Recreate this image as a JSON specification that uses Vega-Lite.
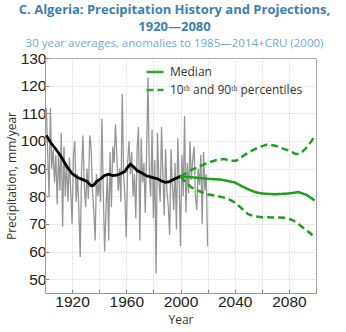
{
  "$schema": "https://vega.github.io/schema/vega-lite/v6.json",
  "width": 271,
  "height": 235,
  "autosize": {"type": "none"},
  "padding": {"left": 45, "top": 58, "right": 30, "bottom": 39},
  "background": "white",
  "title": {
    "text": ["C. Algeria: Precipitation History and Projections,", "1920—2080"],
    "subtitle": "30 year averages, anomalies to 1985—2014+CRU (2000)",
    "font": "Open Sans",
    "fontSize": 13,
    "fontWeight": "bold",
    "color": "#3b7fb3",
    "lineHeight": 17,
    "subtitleFont": "Open Sans",
    "subtitleFontSize": 11.5,
    "subtitleColor": "#6fa8dc",
    "subtitlePadding": 4,
    "offset": 2,
    "anchor": "middle",
    "dx": -6
  },
  "config": {
    "view": {"stroke": "#999", "strokeWidth": 1},
    "axis": {
      "labelFont": "Liberation Sans",
      "labelFontSize": 15.5,
      "labelColor": "#222",
      "domainColor": "#999",
      "tickColor": "#888",
      "tickSize": -4,
      "gridColor": "#c8c8c8",
      "gridDash": [1, 2],
      "titleFont": "Open Sans",
      "titleFontSize": 12.5,
      "titleFontWeight": "normal",
      "titleColor": "#333"
    }
  },
  "datasets": {
    "annual": [
      {"year": 1901, "value": 112}, {"year": 1902, "value": 95}, {"year": 1903, "value": 80}, {"year": 1904, "value": 112}, {"year": 1905, "value": 90},
      {"year": 1906, "value": 97}, {"year": 1907, "value": 85}, {"year": 1908, "value": 95}, {"year": 1909, "value": 77}, {"year": 1910, "value": 96},
      {"year": 1911, "value": 82}, {"year": 1912, "value": 103}, {"year": 1913, "value": 69}, {"year": 1914, "value": 98}, {"year": 1915, "value": 80},
      {"year": 1916, "value": 92}, {"year": 1917, "value": 78}, {"year": 1918, "value": 94}, {"year": 1919, "value": 82}, {"year": 1920, "value": 70},
      {"year": 1921, "value": 95}, {"year": 1922, "value": 100}, {"year": 1923, "value": 78}, {"year": 1924, "value": 88}, {"year": 1925, "value": 75},
      {"year": 1926, "value": 58}, {"year": 1927, "value": 90}, {"year": 1928, "value": 102}, {"year": 1929, "value": 84}, {"year": 1930, "value": 76},
      {"year": 1931, "value": 90}, {"year": 1932, "value": 79}, {"year": 1933, "value": 102}, {"year": 1934, "value": 98}, {"year": 1935, "value": 82},
      {"year": 1936, "value": 75}, {"year": 1937, "value": 64}, {"year": 1938, "value": 88}, {"year": 1939, "value": 80}, {"year": 1940, "value": 86},
      {"year": 1941, "value": 78}, {"year": 1942, "value": 108}, {"year": 1943, "value": 82}, {"year": 1944, "value": 60}, {"year": 1945, "value": 75},
      {"year": 1946, "value": 88}, {"year": 1947, "value": 64}, {"year": 1948, "value": 96}, {"year": 1949, "value": 76}, {"year": 1950, "value": 98},
      {"year": 1951, "value": 92}, {"year": 1952, "value": 106}, {"year": 1953, "value": 95}, {"year": 1954, "value": 82}, {"year": 1955, "value": 90},
      {"year": 1956, "value": 78}, {"year": 1957, "value": 117}, {"year": 1958, "value": 88}, {"year": 1959, "value": 80}, {"year": 1960, "value": 65},
      {"year": 1961, "value": 92}, {"year": 1962, "value": 100}, {"year": 1963, "value": 88}, {"year": 1964, "value": 96}, {"year": 1965, "value": 80},
      {"year": 1966, "value": 88}, {"year": 1967, "value": 72}, {"year": 1968, "value": 97}, {"year": 1969, "value": 105}, {"year": 1970, "value": 64},
      {"year": 1971, "value": 101}, {"year": 1972, "value": 85}, {"year": 1973, "value": 92}, {"year": 1974, "value": 74}, {"year": 1975, "value": 96},
      {"year": 1976, "value": 123}, {"year": 1977, "value": 88}, {"year": 1978, "value": 80}, {"year": 1979, "value": 104}, {"year": 1980, "value": 72},
      {"year": 1981, "value": 93}, {"year": 1982, "value": 52}, {"year": 1983, "value": 103}, {"year": 1984, "value": 86}, {"year": 1985, "value": 78},
      {"year": 1986, "value": 105}, {"year": 1987, "value": 88}, {"year": 1988, "value": 73}, {"year": 1989, "value": 97}, {"year": 1990, "value": 82},
      {"year": 1991, "value": 76}, {"year": 1992, "value": 66}, {"year": 1993, "value": 97}, {"year": 1994, "value": 84}, {"year": 1995, "value": 75},
      {"year": 1996, "value": 92}, {"year": 1997, "value": 68}, {"year": 1998, "value": 101}, {"year": 1999, "value": 85}, {"year": 2000, "value": 62},
      {"year": 2001, "value": 95}, {"year": 2002, "value": 80}, {"year": 2003, "value": 109}, {"year": 2004, "value": 74}, {"year": 2005, "value": 92},
      {"year": 2006, "value": 81}, {"year": 2007, "value": 100}, {"year": 2008, "value": 86}, {"year": 2009, "value": 93}, {"year": 2010, "value": 98},
      {"year": 2011, "value": 80}, {"year": 2012, "value": 75}, {"year": 2013, "value": 90}, {"year": 2014, "value": 84}, {"year": 2015, "value": 95},
      {"year": 2016, "value": 70}, {"year": 2017, "value": 96}, {"year": 2018, "value": 82}, {"year": 2019, "value": 88}, {"year": 2020, "value": 62}
    ],
    "smooth": [
      {"year": 1901, "value": 102}, {"year": 1904, "value": 99.5}, {"year": 1908, "value": 97}, {"year": 1912, "value": 94.3},
      {"year": 1916, "value": 90.8}, {"year": 1920, "value": 88.2}, {"year": 1924, "value": 86.8}, {"year": 1928, "value": 86},
      {"year": 1931, "value": 85.3}, {"year": 1934, "value": 83.8}, {"year": 1936, "value": 84}, {"year": 1938, "value": 85.3},
      {"year": 1941, "value": 86.3}, {"year": 1944, "value": 87.5}, {"year": 1947, "value": 88}, {"year": 1950, "value": 87.5},
      {"year": 1953, "value": 87.6}, {"year": 1956, "value": 88.2}, {"year": 1959, "value": 89}, {"year": 1961, "value": 90.5},
      {"year": 1963, "value": 91.5}, {"year": 1965, "value": 90.8}, {"year": 1968, "value": 89.3}, {"year": 1971, "value": 88.5},
      {"year": 1975, "value": 87.4}, {"year": 1979, "value": 86.8}, {"year": 1983, "value": 86.3}, {"year": 1986, "value": 85.5},
      {"year": 1989, "value": 85}, {"year": 1992, "value": 85.3}, {"year": 1995, "value": 86.1}, {"year": 1998, "value": 86.8},
      {"year": 2000, "value": 87.2}
    ],
    "proj": [
      {"year": 2000, "value": 87.2, "line": "median", "series": "Median"},
      {"year": 2010, "value": 86.8, "line": "median", "series": "Median"},
      {"year": 2020, "value": 86.3, "line": "median", "series": "Median"},
      {"year": 2030, "value": 86.0, "line": "median", "series": "Median"},
      {"year": 2040, "value": 85.0, "line": "median", "series": "Median"},
      {"year": 2045, "value": 83.7, "line": "median", "series": "Median"},
      {"year": 2050, "value": 82.5, "line": "median", "series": "Median"},
      {"year": 2055, "value": 81.5, "line": "median", "series": "Median"},
      {"year": 2060, "value": 81.0, "line": "median", "series": "Median"},
      {"year": 2070, "value": 80.7, "line": "median", "series": "Median"},
      {"year": 2080, "value": 81.0, "line": "median", "series": "Median"},
      {"year": 2087, "value": 81.5, "line": "median", "series": "Median"},
      {"year": 2093, "value": 80.5, "line": "median", "series": "Median"},
      {"year": 2099, "value": 78.5, "line": "median", "series": "Median"},
      {"year": 2000, "value": 87.2, "line": "p90", "series": "10ᵗʰ and 90ᵗʰ percentiles"},
      {"year": 2008, "value": 89.5, "line": "p90", "series": "10ᵗʰ and 90ᵗʰ percentiles"},
      {"year": 2015, "value": 91.0, "line": "p90", "series": "10ᵗʰ and 90ᵗʰ percentiles"},
      {"year": 2020, "value": 92.1, "line": "p90", "series": "10ᵗʰ and 90ᵗʰ percentiles"},
      {"year": 2026, "value": 93.0, "line": "p90", "series": "10ᵗʰ and 90ᵗʰ percentiles"},
      {"year": 2032, "value": 93.5, "line": "p90", "series": "10ᵗʰ and 90ᵗʰ percentiles"},
      {"year": 2037, "value": 92.8, "line": "p90", "series": "10ᵗʰ and 90ᵗʰ percentiles"},
      {"year": 2041, "value": 92.8, "line": "p90", "series": "10ᵗʰ and 90ᵗʰ percentiles"},
      {"year": 2046, "value": 94.5, "line": "p90", "series": "10ᵗʰ and 90ᵗʰ percentiles"},
      {"year": 2052, "value": 96.3, "line": "p90", "series": "10ᵗʰ and 90ᵗʰ percentiles"},
      {"year": 2058, "value": 97.8, "line": "p90", "series": "10ᵗʰ and 90ᵗʰ percentiles"},
      {"year": 2064, "value": 98.7, "line": "p90", "series": "10ᵗʰ and 90ᵗʰ percentiles"},
      {"year": 2070, "value": 98.3, "line": "p90", "series": "10ᵗʰ and 90ᵗʰ percentiles"},
      {"year": 2075, "value": 97.3, "line": "p90", "series": "10ᵗʰ and 90ᵗʰ percentiles"},
      {"year": 2080, "value": 96.5, "line": "p90", "series": "10ᵗʰ and 90ᵗʰ percentiles"},
      {"year": 2085, "value": 95.3, "line": "p90", "series": "10ᵗʰ and 90ᵗʰ percentiles"},
      {"year": 2088, "value": 95.4, "line": "p90", "series": "10ᵗʰ and 90ᵗʰ percentiles"},
      {"year": 2092, "value": 97.0, "line": "p90", "series": "10ᵗʰ and 90ᵗʰ percentiles"},
      {"year": 2096, "value": 99.5, "line": "p90", "series": "10ᵗʰ and 90ᵗʰ percentiles"},
      {"year": 2099, "value": 101.7, "line": "p90", "series": "10ᵗʰ and 90ᵗʰ percentiles"},
      {"year": 2000, "value": 87.2, "line": "p10", "series": "10ᵗʰ and 90ᵗʰ percentiles"},
      {"year": 2004, "value": 85.0, "line": "p10", "series": "10ᵗʰ and 90ᵗʰ percentiles"},
      {"year": 2008, "value": 83.2, "line": "p10", "series": "10ᵗʰ and 90ᵗʰ percentiles"},
      {"year": 2014, "value": 81.8, "line": "p10", "series": "10ᵗʰ and 90ᵗʰ percentiles"},
      {"year": 2020, "value": 80.7, "line": "p10", "series": "10ᵗʰ and 90ᵗʰ percentiles"},
      {"year": 2026, "value": 80.2, "line": "p10", "series": "10ᵗʰ and 90ᵗʰ percentiles"},
      {"year": 2032, "value": 79.5, "line": "p10", "series": "10ᵗʰ and 90ᵗʰ percentiles"},
      {"year": 2037, "value": 78.6, "line": "p10", "series": "10ᵗʰ and 90ᵗʰ percentiles"},
      {"year": 2041, "value": 77.5, "line": "p10", "series": "10ᵗʰ and 90ᵗʰ percentiles"},
      {"year": 2046, "value": 75.2, "line": "p10", "series": "10ᵗʰ and 90ᵗʰ percentiles"},
      {"year": 2050, "value": 73.5, "line": "p10", "series": "10ᵗʰ and 90ᵗʰ percentiles"},
      {"year": 2054, "value": 72.8, "line": "p10", "series": "10ᵗʰ and 90ᵗʰ percentiles"},
      {"year": 2060, "value": 72.4, "line": "p10", "series": "10ᵗʰ and 90ᵗʰ percentiles"},
      {"year": 2070, "value": 72.3, "line": "p10", "series": "10ᵗʰ and 90ᵗʰ percentiles"},
      {"year": 2078, "value": 72.2, "line": "p10", "series": "10ᵗʰ and 90ᵗʰ percentiles"},
      {"year": 2083, "value": 71.3, "line": "p10", "series": "10ᵗʰ and 90ᵗʰ percentiles"},
      {"year": 2087, "value": 70.0, "line": "p10", "series": "10ᵗʰ and 90ᵗʰ percentiles"},
      {"year": 2092, "value": 68.0, "line": "p10", "series": "10ᵗʰ and 90ᵗʰ percentiles"},
      {"year": 2096, "value": 66.5, "line": "p10", "series": "10ᵗʰ and 90ᵗʰ percentiles"},
      {"year": 2099, "value": 65.0, "line": "p10", "series": "10ᵗʰ and 90ᵗʰ percentiles"}
    ]
  },
  "encoding": {
    "x": {
      "field": "year",
      "type": "quantitative",
      "scale": {"domain": [1900, 2100], "nice": false, "zero": false},
      "axis": {
        "title": "Year",
        "values": [1900, 1920, 1940, 1960, 1980, 2000, 2020, 2040, 2060, 2080, 2100],
        "format": "d",
        "labelExpr": "datum.value % 40 == 0 ? datum.label : ''",
        "labelPadding": 5,
        "titlePadding": 5,
        "titleFontSize": 12
      }
    },
    "y": {
      "field": "value",
      "type": "quantitative",
      "scale": {"domain": [45, 130], "nice": false, "zero": false},
      "axis": {
        "title": "Precipitation, mm/year",
        "values": [50, 60, 70, 80, 90, 100, 110, 120, 130],
        "labelPadding": 3,
        "titlePadding": 2,
        "titleFontSize": 12
      }
    }
  },
  "layer": [
    {
      "data": {"name": "annual"},
      "mark": {"type": "line", "color": "#969696", "strokeWidth": 1.3}
    },
    {
      "data": {"name": "smooth"},
      "mark": {"type": "line", "color": "#000000", "strokeWidth": 2.8}
    },
    {
      "data": {"name": "proj"},
      "mark": {"type": "line", "color": "#1f9e1f", "strokeWidth": 2.5},
      "encoding": {
        "detail": {"field": "line"},
        "strokeDash": {
          "field": "series",
          "type": "nominal",
          "scale": {"domain": ["Median", "10ᵗʰ and 90ᵗʰ percentiles"], "range": [[1, 0], [7, 4]]},
          "legend": {
            "title": null,
            "orient": "none",
            "legendX": 100,
            "legendY": 4,
            "padding": 0,
            "symbolType": "stroke",
            "symbolStrokeColor": "#2ea62e",
            "symbolStrokeWidth": 2.5,
            "symbolSize": 290,
            "labelFont": "Open Sans",
            "labelFontSize": 12,
            "labelColor": "#333",
            "labelOffset": 5,
            "rowPadding": 2
          }
        }
      }
    }
  ]
}
